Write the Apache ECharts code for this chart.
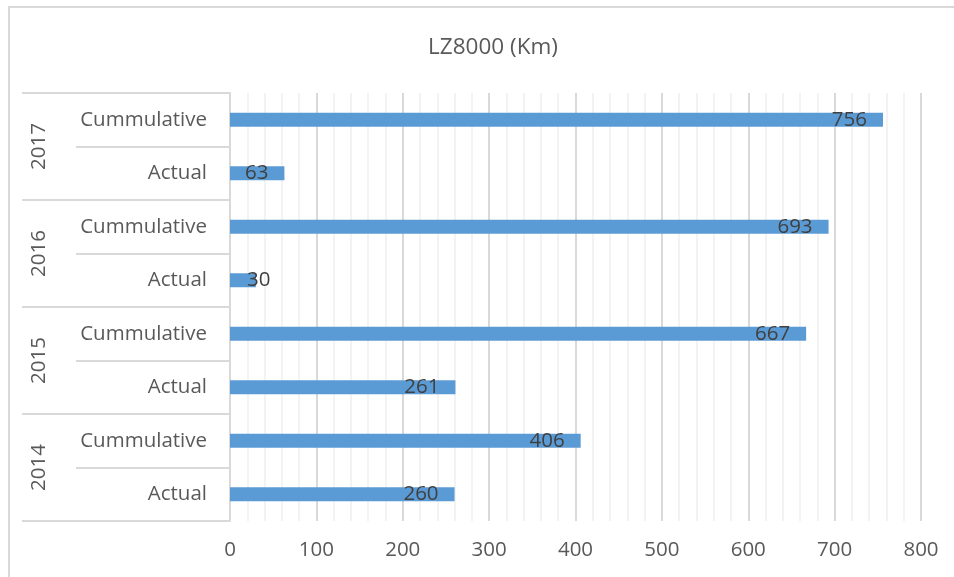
<!DOCTYPE html>
<html>
<head>
<meta charset="utf-8">
<script src="https://cdn.jsdelivr.net/npm/echarts@6/dist/echarts.min.js"></script>
<style>
  html, body { margin: 0; padding: 0; background: #ffffff; }
  #chart { width: 954px; height: 577px; }
</style>
</head>
<body>
<div id="chart"></div>
<script>
// Years (outer category level) and row kinds (inner level), bottom to top
const years = ['2014', '2015', '2016', '2017'];
const kinds = ['Actual', 'Cummulative'];

// Kilometres per year
const actualKm = [260, 261, 30, 63];
const cumulativeKm = [406, 667, 693, 756];

// Value axis ticks
const xTicks = [0, 100, 200, 300, 400, 500, 600, 700, 800];

// Build the interleaved rows: each year has Actual then Cummulative
const rows = [];
const values = [];
years.forEach((y, i) => {
  rows.push(y + '|' + kinds[0]);
  values.push(actualKm[i]);
  rows.push(y + '|' + kinds[1]);
  values.push(cumulativeKm[i]);
});

const font = '"Open Sans", Lato, sans-serif';
const lineGray = '#d9d9d9';
const textGray = '#595959';

// Labels sit inside the bar end; very short bars get them from the base instead
const barData = values.map(v => {
  const item = { value: v };
  if (v < 40) {
    item.label = { position: 'insideLeft', distance: 17 };
  }
  return item;
});

const chart = echarts.init(document.getElementById('chart'), null, { renderer: 'canvas' });

chart.setOption({
  backgroundColor: '#ffffff',
  animation: false,
  title: {
    text: 'LZ8000 (Km)',
    left: 488,
    top: 31,
    textAlign: 'center',
    textStyle: { fontFamily: font, fontSize: 22.5, fontWeight: 'normal', color: textGray }
  },
  graphic: [{
    type: 'rect',
    shape: { x: 9, y: 7, width: 1000, height: 700 },
    style: { fill: 'none', stroke: lineGray, lineWidth: 2 },
    silent: true,
    z: -10
  }],
  grid: { left: 230, right: 33, top: 93, bottom: 56, containLabel: false },
  xAxis: {
    type: 'value',
    min: xTicks[0],
    max: xTicks[xTicks.length - 1],
    interval: xTicks[1] - xTicks[0],
    axisLine: { show: false },
    axisTick: { show: false },
    axisLabel: { fontFamily: font, fontSize: 20.5, color: textGray, margin: 19 },
    splitLine: { show: true, lineStyle: { color: lineGray, width: 2 } },
    minorTick: { show: false, splitNumber: 5 },
    minorSplitLine: { show: true, lineStyle: { color: '#f0f0f0', width: 1.5 } }
  },
  yAxis: [
    {
      type: 'category',
      data: rows,
      position: 'left',
      axisLine: { show: true, lineStyle: { color: lineGray, width: 2 } },
      axisTick: { show: true, length: 154, interval: 0, lineStyle: { color: lineGray, width: 2 } },
      axisLabel: {
        interval: 0,
        margin: 23,
        padding: [4, 0, 0, 0],
        fontFamily: font,
        fontSize: 20.5,
        color: textGray,
        formatter: v => v.split('|')[1]
      },
      splitLine: { show: false }
    },
    {
      type: 'category',
      data: years,
      position: 'left',
      offset: 0,
      axisLine: { show: false },
      axisTick: { show: true, length: 208, interval: 0, lineStyle: { color: lineGray, width: 2 } },
      axisLabel: {
        interval: 0,
        rotate: 90,
        margin: 180,
        fontFamily: font,
        fontSize: 20.5,
        color: textGray
      },
      splitLine: { show: false }
    }
  ],
  series: [{
    type: 'bar',
    yAxisIndex: 0,
    data: barData,
    barWidth: 14,
    itemStyle: { color: '#5b9bd5' },
    label: {
      show: true,
      position: 'insideRight',
      distance: 16,
      padding: [4, 0, 0, 0],
      fontFamily: font,
      fontSize: 20.5,
      color: '#404040'
    }
  }]
});
</script>
</body>
</html>
